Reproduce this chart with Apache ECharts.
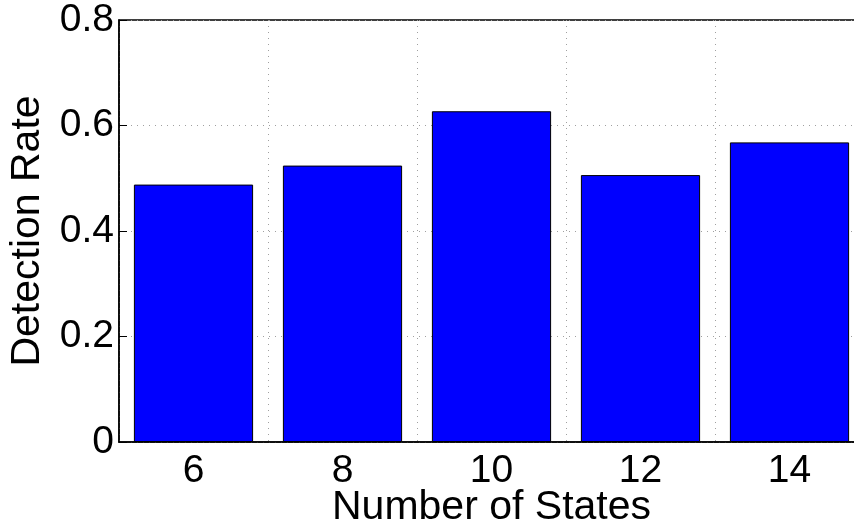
<!DOCTYPE html>
<html>
<head>
<meta charset="utf-8">
<script src="https://cdn.jsdelivr.net/npm/echarts@6/dist/echarts.min.js"></script>
<style>
  html, body { margin: 0; padding: 0; background: #fff; }
  #chart { width: 854px; height: 525px; }
</style>
</head>
<body>
<div id="chart"></div>
<script>
// categories and bar heights
const numStates = ['6', '8', '10', '12', '14'];
const detectionRate = [0.488, 0.524, 0.627, 0.506, 0.568];
const yTicks = [0, 0.2, 0.4, 0.6, 0.8];

const chart = echarts.init(document.getElementById('chart'));
const font = 'Liberation Sans, Arial, sans-serif';
const dotted = { color: '#a0a0a0', width: 1, type: [1, 5] };

const option = {
    backgroundColor: '#fff',
    animation: false,
    grid: {
        left: 119, top: 20, width: 745, bottom: 83,
        show: true, borderColor: '#000', borderWidth: 1.5,
        containLabel: false,
        outerBoundsMode: 'none'
    },
    xAxis: {
        type: 'category',
        data: numStates,
        boundaryGap: true,
        name: 'Number of States',
        nameLocation: 'middle',
        nameGap: 45,
        nameMoveOverlap: false,
        nameTextStyle: { color: '#000', fontSize: 41, fontFamily: font },
        axisLine: { lineStyle: { color: '#000', width: 1.5 } },
        axisTick: { show: true, inside: true, alignWithLabel: true, length: 8, lineStyle: { color: '#000' } },
        axisLabel: { color: '#000', fontSize: 39, fontFamily: font, margin: 10 },
        splitLine: { show: true, lineStyle: dotted }
    },
    yAxis: {
        type: 'value',
        min: yTicks[0],
        max: yTicks[yTicks.length - 1],
        interval: 0.2,
        name: 'Detection Rate',
        nameLocation: 'middle',
        nameGap: 71,
        nameMoveOverlap: false,
        nameTextStyle: { color: '#000', fontSize: 41, fontFamily: font },
        axisLine: { show: true, lineStyle: { color: '#000', width: 1.5 } },
        axisTick: { show: true, inside: true, length: 8, lineStyle: { color: '#000' } },
        axisLabel: {
            color: '#000', fontSize: 39, fontFamily: font, margin: 5,
            formatter: v => (v === 0 ? '0' : v.toFixed(1))
        },
        splitLine: { show: true, lineStyle: dotted }
    },
    series: [{
        type: 'bar',
        data: detectionRate,
        barWidth: '80%',
        itemStyle: { color: '#0000ff', borderColor: '#000', borderWidth: 1 }
    }]
};

chart.setOption(option);
</script>
</body>
</html>
